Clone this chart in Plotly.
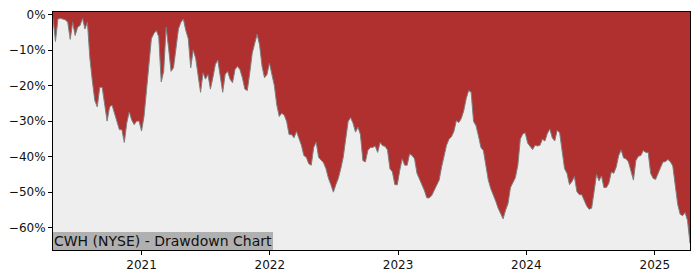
import pandas as pd
import plotly.graph_objects as go

# Weekly drawdown of CWH (NYSE), in percent
start_date = "2020-04-24"
end_date = "2025-04-11"
drawdown_pct = [
    -1.0, -7.6, -1.3, -1.1, -1.3, -1.5, -2.2, -7.0, -2.2, -5.9,
    -3.6, -3.1, -1.1, -4.1, -2.2, -12.3, -18.7, -24.2, -26.0, -20.5,
    -20.5, -25.0, -30.0, -26.0, -25.5, -27.8, -30.5, -32.4, -32.4, -36.0,
    -30.5, -27.4, -29.7, -31.0, -30.0, -30.0, -32.8, -28.7, -21.4, -12.8,
    -6.8, -5.4, -4.5, -6.3, -19.0, -16.0, -3.6, -9.5, -16.0, -15.0,
    -8.6, -4.1, -2.2, -1.3, -4.5, -6.8, -15.0, -10.0, -12.3, -17.3,
    -21.9, -16.4, -18.2, -16.9, -21.0, -17.8, -14.1, -12.8, -16.9, -21.9,
    -16.9, -16.0, -18.2, -19.2, -15.5, -14.6, -15.5, -17.8, -21.0, -21.4,
    -16.4, -10.9, -8.2, -5.6, -8.6, -14.6, -17.8, -16.9, -13.7, -17.3,
    -20.0, -25.5, -28.7, -27.8, -28.3, -30.1, -33.8, -33.8, -34.7, -32.9,
    -35.0, -36.8, -39.7, -40.2, -42.0, -42.4, -37.4, -35.9, -40.2, -41.1,
    -41.7, -43.4, -46.1, -47.9, -50.0, -47.9, -46.1, -43.4, -40.2, -35.1,
    -30.1, -29.0, -30.6, -33.1, -31.7, -33.8, -41.1, -41.5, -38.3, -37.4,
    -37.4, -37.0, -38.8, -36.0, -36.9, -37.1, -38.1, -43.4, -44.3, -47.9,
    -47.9, -43.8, -40.6, -42.4, -42.4, -39.2, -39.7, -40.6, -44.7, -46.3,
    -47.8, -49.5, -51.6, -51.6, -50.9, -49.6, -47.9, -46.6, -42.9, -39.7,
    -36.8, -35.1, -34.4, -32.9, -29.9, -30.4, -29.3, -27.1, -23.7, -21.4,
    -21.9, -30.1, -31.3, -34.2, -37.4, -38.3, -42.4, -46.6, -49.0, -50.5,
    -52.5, -54.5, -56.2, -57.5, -55.1, -53.2, -48.7, -47.3, -45.9, -42.4,
    -35.1, -33.6, -33.3, -36.2, -37.2, -38.0, -36.8, -37.0, -36.8, -35.1,
    -35.6, -33.5, -32.2, -34.7, -35.6, -32.6, -33.3, -37.9, -43.4, -44.7,
    -47.9, -47.0, -45.6, -49.8, -50.7, -50.7, -52.5, -53.9, -54.8, -54.5,
    -49.8, -45.0, -46.8, -45.4, -48.7, -48.7, -47.5, -44.3, -44.7, -42.9,
    -39.7, -38.1, -40.4, -40.6, -41.5, -44.5, -46.6, -41.1, -39.9, -39.7,
    -38.3, -38.8, -38.8, -44.7, -46.1, -46.4, -44.5, -43.1, -41.5, -41.4,
    -40.8, -41.4, -42.6, -47.9, -53.4, -56.2, -56.6, -55.7, -58.0, -64.4,
]
y_tick_values = [-60, -50, -40, -30, -20, -10, 0]
y_tick_labels = ["\u221260%", "\u221250%", "\u221240%", "\u221230%", "\u221220%", "\u221210%", "0%"]
x_tick_values = ["2021-01-01", "2022-01-01", "2023-01-01", "2024-01-01", "2025-01-01"]
x_tick_labels = ["2021", "2022", "2023", "2024", "2025"]
title_text = "CWH (NYSE) - Drawdown Chart"

dates = pd.date_range(start_date, end_date, freq="W-FRI")
n = min(len(dates), len(drawdown_pct))
dates = dates[:n]
dd = drawdown_pct[:n]

RED = "#b03030"
BG = "#eeeeee"
y_top, y_bottom = 0.69, -66.26

fig = go.Figure()
fig.add_trace(go.Scatter(
    x=dates, y=[y_top + 5] * n, mode="lines", line=dict(width=0),
    hoverinfo="skip", showlegend=False,
))
fig.add_trace(go.Scatter(
    x=dates, y=dd, mode="lines", fill="tonexty", fillcolor=RED,
    line=dict(color="#7f7f7f", width=1), showlegend=False,
))

fig.update_layout(
    width=700, height=280,
    margin=dict(l=53, r=10, t=8, b=28),
    paper_bgcolor="white", plot_bgcolor=BG,
    font=dict(family="DejaVu Sans", size=12, color="#111111"),
    showlegend=False,
)
fig.update_xaxes(
    type="date", range=[dates[0], dates[-1]],
    tickmode="array", tickvals=x_tick_values, ticktext=x_tick_labels,
    showgrid=False, zeroline=False,
    showline=True, linecolor="black", linewidth=1, mirror=True,
    ticks="outside", ticklen=4, tickcolor="black",
)
fig.update_yaxes(
    range=[y_bottom, y_top],
    tickmode="array", tickvals=y_tick_values, ticktext=y_tick_labels,
    showgrid=False, zeroline=False,
    showline=True, linecolor="black", linewidth=1, mirror=True,
    ticks="outside", ticklen=4, tickcolor="black",
)
fig.add_annotation(
    xref="paper", yref="paper", x=0, y=0, xanchor="left", yanchor="bottom",
    text=title_text, showarrow=False,
    font=dict(family="DejaVu Sans", size=14, color="#111111"),
    bgcolor="#b0b0b0", borderpad=1, borderwidth=0,
)

fig.write_html("out.html")
